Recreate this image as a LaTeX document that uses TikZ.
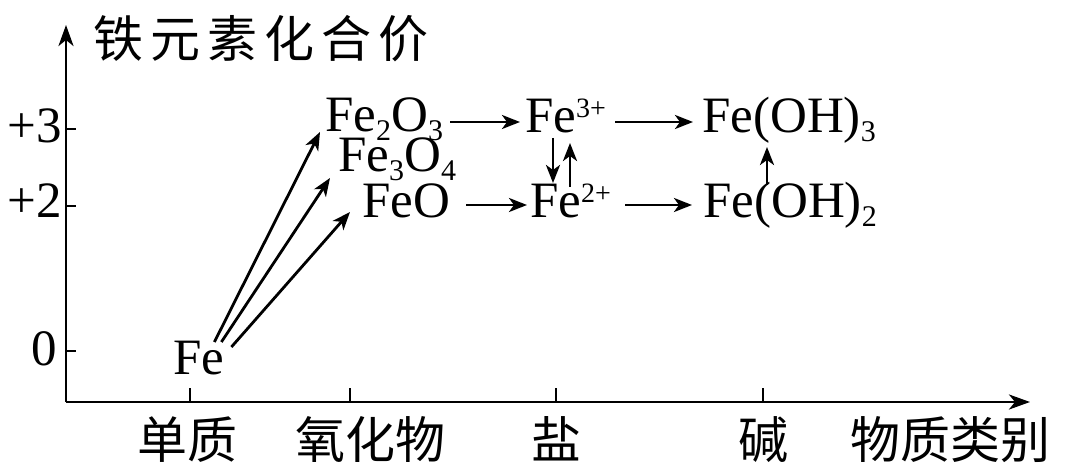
\documentclass[tikz,border=0pt]{standalone}
\usepackage{fontspec}
\setmainfont{Liberation Serif}
\newfontfamily\cjk{Noto Sans CJK SC}
\usetikzlibrary{arrows.meta}
\newcommand\chemsub[1]{\raisebox{-9pt}{\fontsize{30}{30}\selectfont #1}}
\newcommand\chemsup[1]{\raisebox{15pt}{\fontsize{28}{28}\selectfont #1}}
\begin{document}
\begin{tikzpicture}[x=1pt,y=-1pt,
  chem/.style={inner sep=0pt, anchor=base west, font=\fontsize{51}{51}\selectfont},
  lab/.style={inner sep=0pt, anchor=base east, font=\fontsize{51}{51}\selectfont},
  cat/.style={inner sep=0pt, anchor=base, font=\cjk\fontsize{50}{50}\selectfont},
  conn/.style={line width=2.8pt, -{Stealth[length=18pt,width=14pt,inset=5pt]}},
  axisline/.style={line width=2.8pt, -{Stealth[length=21pt,width=15pt,inset=6pt]}},
  tickline/.style={line width=2.8pt}]
\useasboundingbox (0,0) rectangle (1080,476);
% axes
\coordinate (O) at (66,402);
\coordinate (ytip) at (66,25);
\coordinate (xtip) at (1030,402);
\draw[axisline] (O) -- (ytip);
\draw[axisline] (O) -- (xtip);
% y ticks
\coordinate (t3) at (66,129);
\coordinate (t2) at (66,206);
\coordinate (t0) at (66,351);
\foreach \t in {t3,t2,t0} \draw[tickline] (\t) -- ++(10,0);
% x ticks
\coordinate (c1) at (190,402);
\coordinate (c2) at (350,402);
\coordinate (c3) at (556,402);
\coordinate (c4) at (763,402);
\foreach \t in {c1,c2,c3,c4} \draw[tickline] (\t) -- ++(0,-14);
% axis labels
\node[lab] (l3) at (62,143) {+3};
\node[lab] (l2) at (62,218) {+2};
\node[lab] (l0) at (57,365) {0};
\node[cat, anchor=base west] (title) at (93,58) {铁\hspace{7pt}元\hspace{7pt}素\hspace{7pt}化\hspace{7pt}合\hspace{7pt}价};
\node[cat] (k1) at (187,458) {单质};
\node[cat] (k2) at (370,458) {氧化物};
\node[cat] (k3) at (556,458) {盐};
\node[cat] (k4) at (763,458) {碱};
\node[cat] (k5) at (950,458) {物质类别};
% species
\node[chem] (fe) at (173,374) {Fe};
\node[chem] (fe2o3) at (325,132) {Fe\chemsub{2}O\chemsub{3}};
\node[chem] (fe3o4) at (338,172) {Fe\chemsub{3}O\chemsub{4}};
\node[chem] (feo) at (362,218) {FeO};
\node[chem] (fe3) at (525,133) {Fe\chemsup{3+}};
\node[chem] (fe2) at (530,218) {Fe\chemsup{2+}};
\node[chem] (feoh3) at (702,133) {Fe(OH)\chemsub{3}};
\node[chem] (feoh2) at (703,218) {Fe(OH)\chemsub{2}};
% connectors
\draw[conn] ([shift={(-10pt,32pt)}]fe.base east) -- ([shift={(-5pt,0pt)}]fe2o3.base west);
\draw[conn] ([shift={(-3pt,32pt)}]fe.base east) -- ([shift={(-8pt,-6pt)}]fe3o4.base west);
\draw[conn] ([shift={(7pt,27pt)}]fe.base east) -- ([shift={(-12pt,6pt)}]feo.base west);
\draw[conn] ([shift={(7pt,10pt)}]fe2o3.base east) -- ([shift={(-5pt,11pt)}]fe3.base west);
\draw[conn] ([shift={(9pt,11pt)}]fe3.base east) -- ([shift={(-9pt,11pt)}]feoh3.base west);
\draw[conn] ([shift={(16pt,13pt)}]feo.base east) -- ([shift={(-3pt,13pt)}]fe2.base west);
\draw[conn] ([shift={(14pt,13pt)}]fe2.base east) -- ([shift={(-11pt,13pt)}]feoh2.base west);
\draw[conn] ([shift={(28pt,-5pt)}]fe3.base west) -- ([shift={(23pt,35pt)}]fe2.base west);
\draw[conn] ([shift={(40pt,31pt)}]fe2.base west) -- ([shift={(45pt,-10pt)}]fe3.base west);
\draw[conn] ([shift={(64pt,33pt)}]feoh2.base west) -- ([shift={(65pt,-14pt)}]feoh3.base west);
\end{tikzpicture}
\end{document}
